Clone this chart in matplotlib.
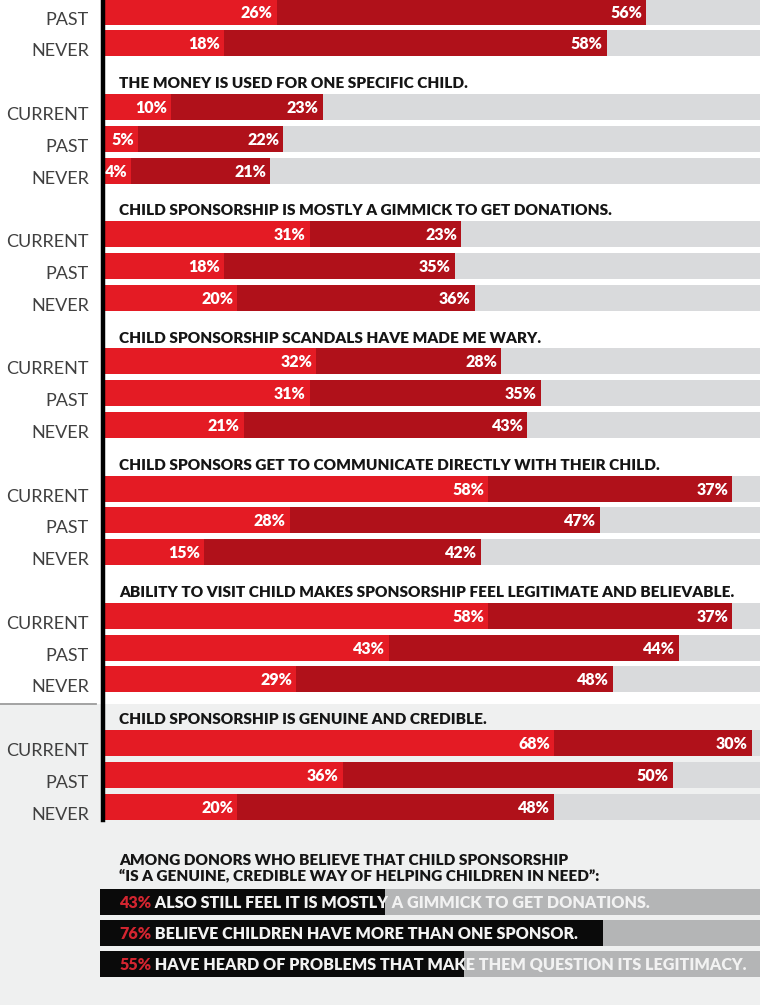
import matplotlib
matplotlib.use("Agg")
import matplotlib.pyplot as plt
from matplotlib.patches import Rectangle
from matplotlib.lines import Line2D
from matplotlib.transforms import blended_transform_factory

FONT = ["Lato", "DejaVu Sans"]
plt.rcParams["font.family"] = FONT

# survey statements (group 0 is cut off at the top of the picture)
statements = [
    None,
    "THE MONEY IS USED FOR ONE SPECIFIC CHILD.",
    "CHILD SPONSORSHIP IS MOSTLY A GIMMICK TO GET DONATIONS.",
    "CHILD SPONSORSHIP SCANDALS HAVE MADE ME WARY.",
    "CHILD SPONSORS GET TO COMMUNICATE DIRECTLY WITH THEIR CHILD.",
    "ABILITY TO VISIT CHILD MAKES SPONSORSHIP FEEL LEGITIMATE AND BELIEVABLE.",
    "CHILD SPONSORSHIP IS GENUINE AND CREDIBLE.",
]
donor_types = ["CURRENT", "PAST", "NEVER"]

# first value = bright red segment, second = dark red segment (None = not visible)
strongly = [
    [None, 26, 18],
    [10, 5, 4],
    [31, 18, 20],
    [32, 31, 21],
    [58, 28, 15],
    [58, 43, 29],
    [68, 36, 20],
]
somewhat = [
    [None, 56, 58],
    [23, 22, 21],
    [23, 35, 36],
    [28, 35, 43],
    [37, 47, 42],
    [37, 44, 48],
    [30, 50, 48],
]

bottom_title = ("AMONG DONORS WHO BELIEVE THAT CHILD SPONSORSHIP\n"
                "\u201cIS A GENUINE, CREDIBLE WAY OF HELPING CHILDREN IN NEED\u201d:")
bottom_pcts = [43, 76, 55]
bottom_texts = [
    "ALSO STILL FEEL IT IS MOSTLY A GIMMICK TO GET DONATIONS.",
    "BELIEVE CHILDREN HAVE MORE THAN ONE SPONSOR.",
    "HAVE HEARD OF PROBLEMS THAT MAKE THEM QUESTION ITS LEGITIMACY.",
]

RED = "#e41b24"
DARK_RED = "#b0111a"
GRAY = "#d9dadc"
LIGHT_BG = "#eff0f0"
INK = "#151515"

W, H = 760, 1005
fig = plt.figure(figsize=(W / 100, H / 100), dpi=100)
fig.patch.set_facecolor("white")

# light background for the lower part + separator on the left
fig.patches.append(Rectangle((0, 0), 1, (H - 704) / H, transform=fig.transFigure,
                             facecolor=LIGHT_BG, edgecolor="none", zorder=-10))
fig.lines.append(Line2D([0, 96 / W], [(H - 704) / H] * 2, transform=fig.transFigure,
                        color="#9c9c9c", lw=1.3))

# main chart axes: pixel x 105..760, y 0..820
ax = fig.add_axes([105 / W, (H - 820) / H, (W - 105) / W, 820 / H])
ax.set_facecolor("none")
PX_PER_PCT = 6.6
UNIT = 31.8
ax.set_xlim(0, (W - 105) / PX_PER_PCT)
ax.set_ylim((820 + 52) / UNIT, 52 / UNIT)
for s in ax.spines.values():
    s.set_visible(False)
ax.set_xticks([])
ax.set_yticks([])

label_tf = blended_transform_factory(fig.transFigure, ax.transData)
BAR_H = 0.82

for g, statement in enumerate(statements):
    if statement is not None:
        ax.text(2.1, 4 * g + 0.27, statement, fontsize=11.1, fontweight="heavy",
                color=INK, va="center", ha="left")
    for k, who in enumerate(donor_types):
        a = strongly[g][k]
        b = somewhat[g][k]
        if a is None:
            continue
        y = 4 * g + k + 1
        ax.barh(y, 100, height=BAR_H, color=GRAY, zorder=1)
        ax.barh(y, a, height=BAR_H, color=RED, zorder=2)
        ax.barh(y, b, left=a, height=BAR_H, color=DARK_RED, zorder=2)
        ax.text(a - 0.6, y + 0.03, f"{a}%", color="white", fontsize=11.5,
                fontweight="heavy", ha="right", va="center", zorder=3)
        ax.text(a + b - 0.6, y + 0.03, f"{b}%", color="white", fontsize=11.5,
                fontweight="heavy", ha="right", va="center", zorder=3)
        ax.text(89 / W, y + 0.25, who, transform=label_tf, fontsize=13,
                fontweight="normal", color="#404040", ha="right", va="center",
                clip_on=False)

# black vertical axis line
fig.lines.append(Line2D([103 / W] * 2, [1, (H - 820) / H], transform=fig.transFigure,
                        color="black", lw=3.2))

# bottom summary
fig.text(119 / W, 1 - 868 / H, bottom_title, fontsize=11.1, fontweight="heavy",
         color=INK, ha="left", va="center", linespacing=1.1)

bx = fig.add_axes([100 / W, (H - 980) / H, (W - 100) / W, (980 - 886) / H])
bx.set_facecolor("none")
bx.set_xlim(0, (W - 100) / 6.62)
bx.set_ylim(2.5, -0.5)
bx.axis("off")
for i, (p, txt) in enumerate(zip(bottom_pcts, bottom_texts)):
    bx.barh(i, 100, height=0.84, color="#b4b5b6")
    bx.barh(i, p, height=0.84, color="#0a0a0a")
    t = bx.text(2.9, i + 0.03, f"{p}%", color="#d42530", fontsize=11.6,
                fontweight="heavy", ha="left", va="center")
    bx.annotate(" " + txt, xy=(1, 0), xycoords=t, va="bottom", ha="left",
                color="#f2f2f2", fontsize=11.6, fontweight="heavy")

fig.savefig("out.png", dpi=100, facecolor=fig.get_facecolor())
